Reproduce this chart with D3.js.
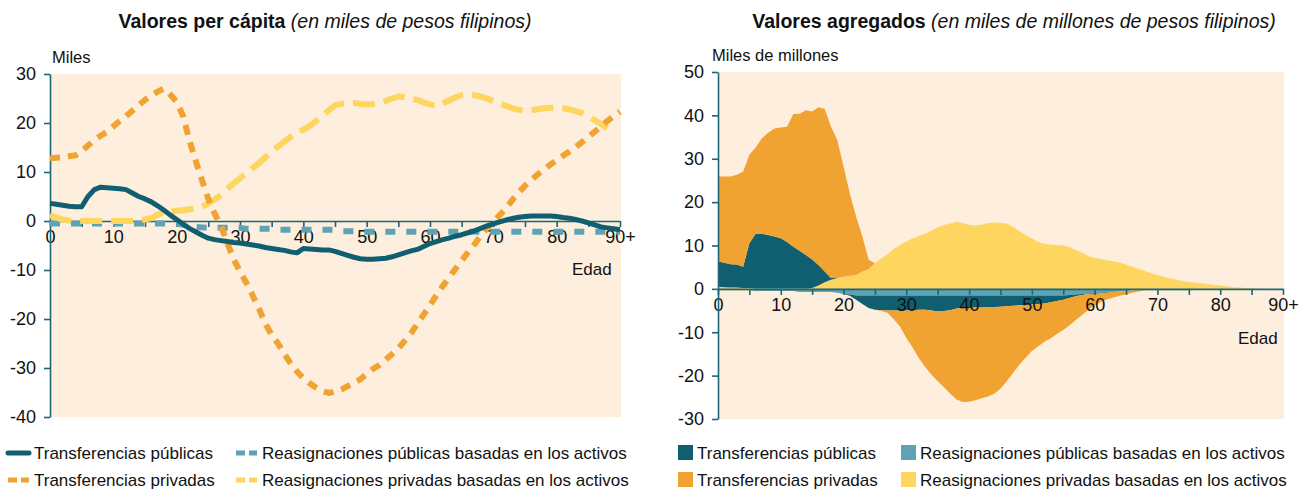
<!DOCTYPE html>
<html>
<head>
<meta charset="utf-8">
<title>Valores per cápita y agregados</title>
<script src="https://d3js.org/d3.v7.min.js"></script>
<style>
  body { margin: 0; background: #fff; }
  text { font-family: "Liberation Sans", Arial, sans-serif; fill: #111; }
</style>
</head>
<body>
<div id="chart"></div>
<script>
// edades 0..90+
const ages = d3.range(0, 91);

// --- per cápita (miles de pesos) ---
const pcTransfPublicas = [3.6,3.4,3.2,3.0,2.9,2.9,5.0,6.4,6.9,6.8,6.7,6.6,6.4,5.7,5.0,4.5,3.9,3.1,2.2,1.2,
  0.3,-0.6,-1.5,-2.2,-2.9,-3.5,-3.8,-4.0,-4.2,-4.4,-4.5,-4.7,-4.9,-5.1,-5.4,-5.6,-5.8,-6.0,-6.3,-6.5,
  -5.6,-5.7,-5.8,-5.9,-5.9,-6.2,-6.6,-7.0,-7.4,-7.7,-7.8,-7.8,-7.7,-7.6,-7.3,-6.9,-6.5,-6.1,-5.8,-5.2,
  -4.6,-4.2,-3.8,-3.5,-3.1,-2.8,-2.4,-2.0,-1.5,-1.0,-0.6,-0.2,0.2,0.5,0.75,0.9,1.0,1.0,1.0,1.0,
  0.9,0.7,0.55,0.3,0.0,-0.4,-0.8,-1.2,-1.4,-1.6,-1.8];
const pcTransfPrivadas = [12.8,12.9,13.0,13.2,13.4,14.2,15.4,16.5,17.4,18.2,19.3,20.4,21.4,22.5,23.6,24.7,25.6,26.4,27.0,25.8,
  24.3,21.5,16.5,12.3,8.3,4.5,1.5,-1.0,-4.5,-7.8,-10.3,-12.6,-15.2,-17.9,-21.0,-23.2,-25.0,-27.1,-29.1,-30.7,
  -32.1,-33.1,-34.0,-34.7,-35.1,-34.8,-34.4,-33.7,-33.0,-32.3,-31.2,-30.2,-29.4,-28.3,-27.2,-26.0,-24.5,-22.9,-21.0,-19.1,
  -17.2,-15.2,-13.3,-11.6,-9.8,-8.1,-6.4,-4.8,-3.0,-1.5,-0.1,1.2,2.5,4.3,5.8,7.2,8.4,9.5,10.5,11.5,
  12.4,13.3,14.2,15.1,16.1,17.2,18.2,19.3,20.4,21.4,22.3];
const pcReasigPublicas = [-0.5,-0.5,-0.5,-0.5,-0.5,-0.5,-0.5,-0.5,-0.5,-0.5,-0.5,-0.5,-0.5,-0.5,-0.5,-0.5,-0.5,-0.5,-0.5,-0.5,
  -0.5,-0.8,-1.0,-1.2,-1.3,-1.4,-1.4,-1.4,-1.4,-1.4,-1.4,-1.6,-1.6,-1.6,-1.6,-1.6,-1.8,-1.8,-1.8,-1.8,
  -1.8,-1.8,-1.8,-1.8,-1.8,-1.8,-2.1,-2.1,-2.1,-2.2,-2.2,-2.2,-2.2,-2.2,-2.2,-2.2,-2.2,-2.2,-2.2,-2.2,
  -2.2,-2.2,-2.2,-2.2,-2.2,-2.2,-2.2,-2.2,-2.2,-2.2,-2.2,-2.2,-2.2,-2.2,-2.2,-2.2,-2.2,-2.2,-2.2,-2.2,
  -2.2,-2.2,-2.2,-2.2,-2.2,-2.2,-2.2,-2.2,-2.2,-2.2,-2.2];
const pcReasigPrivadas = [1.2,0.7,0.3,0.1,0.0,0.0,0.0,0.0,0.0,0.0,0.0,0.0,0.0,0.0,0.1,0.3,0.6,1.3,1.7,1.9,
  2.1,2.2,2.4,2.6,2.9,3.6,4.4,5.3,6.5,7.7,8.7,9.7,10.8,11.8,13.0,14.1,15.2,16.2,17.2,18.2,
  18.6,19.4,20.4,21.4,22.6,23.6,23.9,24.1,24.1,23.9,23.8,23.9,24.1,24.5,25.0,25.4,25.3,25.0,24.7,24.2,
  23.8,23.5,24.0,24.6,25.2,25.7,25.9,25.7,25.4,25.0,24.5,24.0,23.5,23.0,22.7,22.5,22.6,22.8,23.0,23.1,
  23.1,23.0,22.8,22.4,22.0,21.3,20.6,19.8,18.9,null,null];

// --- agregados (miles de millones de pesos) ---
const agTransfPublicas = [5.8,5.6,5.4,5.3,4.9,10.3,12.6,12.6,12.3,12.0,11.6,10.7,9.6,8.7,7.7,6.6,4.7,2.5,0.4,0,
  -0.1,-0.3,-1.0,-2.0,-2.9,-3.3,-3.4,-3.5,-3.5,-3.5,-3.5,-3.4,-3.3,-3.3,-3.5,-3.7,-3.6,-3.4,-3.0,-2.9,
  -2.9,-2.8,-2.8,-2.7,-2.7,-2.6,-2.5,-2.4,-2.3,-2.2,-2.1,-2.0,-1.9,-1.6,-1.3,-1.0,-0.7,-0.4,-0.2,-0.1,
  -0.2,-0.1,-0.1,0,0,0,0,0,0,0,0,0,0,0,0,0,0,0,0,0,
  0,0,0,0,0,0,0,0,0,0,0];
const agReasigPublicas = [-0.3,-0.3,-0.3,-0.3,-0.3,-0.3,-0.5,-0.5,-0.5,-0.5,-0.5,-0.5,-0.5,-0.7,-0.7,-0.7,-0.7,-0.7,-0.7,-0.9,
  -1.1,-1.3,-1.5,-1.5,-1.5,-1.5,-1.5,-1.5,-1.5,-1.5,-1.5,-1.5,-1.5,-1.5,-1.5,-1.5,-1.5,-1.5,-1.5,-1.5,
  -1.5,-1.5,-1.5,-1.5,-1.5,-1.5,-1.5,-1.5,-1.5,-1.5,-1.5,-1.5,-1.5,-1.5,-1.5,-1.5,-1.4,-1.3,-1.2,-1.1,
  -1.0,-0.9,-0.8,-0.7,-0.6,-0.5,-0.4,-0.4,-0.3,-0.3,-0.3,-0.3,-0.3,-0.3,-0.3,-0.3,-0.2,-0.2,-0.2,-0.2,
  -0.2,-0.1,-0.1,-0.1,-0.1,-0.1,0,0,0,0,0];
const agTransfPrivadas = [19.6,19.9,20.2,20.7,21.9,20.4,19.9,22.0,23.6,24.9,25.5,26.6,30.6,31.6,33.4,34.1,36.4,37.5,34.9,31.8,
  25.4,19.0,13.5,8.1,2.2,0,-0.2,-0.5,-2.0,-3.7,-6.3,-8.6,-11.2,-13.2,-14.8,-16.1,-17.6,-19.3,-21.0,-21.7,
  -21.6,-21.4,-20.9,-20.6,-20.0,-18.9,-17.3,-15.5,-13.7,-12.2,-10.7,-9.7,-8.8,-8.3,-7.6,-7.0,-6.3,-5.5,-4.6,-3.6,
  -2.6,-2.0,-1.5,-1.3,-1.0,-0.8,-0.5,-0.2,0,0,0,0,0,0,0,0,0,0,0,0,
  0,0,0,0,0,0,0,0,0,0,0];
const agReasigPrivadas = [0.5,0.4,0.3,0.3,0.2,0.2,0.1,0.1,0.1,0.1,0.1,0.1,0.1,0.1,0.1,0.2,0.8,1.5,2.1,2.5,
  2.8,3.0,3.2,4.0,4.5,5.9,7.0,8.0,9.2,10.1,10.9,11.6,12.2,12.7,13.4,14.2,14.7,15.1,15.5,15.2,
  14.7,14.6,14.8,15.2,15.3,15.2,15.1,14.3,13.3,12.4,11.6,10.8,10.4,10.2,10.1,10.0,9.6,8.9,8.3,7.6,
  7.1,6.9,6.6,6.3,6.1,5.6,5.1,4.6,4.1,3.6,3.2,2.8,2.4,2.1,1.8,1.6,1.4,1.3,1.1,0.9,
  0.8,0.6,0.4,0.3,0.2,0.1,0,0,0,0,0];

const xTicks = d3.range(0, 91, 5);
const yTicksPc = d3.range(-40, 31, 10);
const yTicksAg = d3.range(-30, 51, 10);

const seriesNames = ["Transferencias públicas", "Reasignaciones públicas basadas en los activos",
                     "Transferencias privadas", "Reasignaciones privadas basadas en los activos"];

const C = { dark: "#0f5f70", light: "#5ea2b5", orange: "#f0a331", yellow: "#fdd55f",
            bg: "#fdeedd", axis: "#1b6679" };

const svg = d3.select("#chart").append("svg")
    .attr("width", 1306).attr("height", 493);

function ageFmt(d) { return d % 10 === 0 ? (d === 90 ? "90+" : String(d)) : ""; }

function frame(x, y, labX, yUnit, edadPos) {
    svg.append("rect")
        .attr("x", x.range()[0]).attr("y", y.range()[1])
        .attr("width", x.range()[1] - x.range()[0] + 1)
        .attr("height", y.range()[0] - y.range()[1])
        .attr("fill", C.bg);
    svg.append("text").attr("x", labX).attr("y", y.range()[1] - 11)
        .attr("font-size", 16.5).text(yUnit);
    svg.append("text").attr("x", edadPos[0]).attr("y", edadPos[1])
        .attr("font-size", 17).text("Edad");
}

function axes(x, y, yTicks) {
    let gx = svg.append("g")
        .attr("transform", "translate(0," + y(0) + ")")
        .call(d3.axisBottom(x).tickValues(xTicks).tickFormat(ageFmt)
              .tickSize(6).tickSizeOuter(0).tickPadding(3));
    let gy = svg.append("g")
        .attr("transform", "translate(" + x(0) + ",0)")
        .call(d3.axisLeft(y).tickValues(yTicks).tickFormat(d => String(d))
              .tickSize(6).tickSizeOuter(0).tickPadding(8));
    [gx, gy].forEach(g => {
        g.select(".domain").attr("stroke", C.axis).attr("stroke-width", 1.6);
        g.selectAll(".tick line").attr("stroke", C.axis).attr("stroke-width", 1.6);
        g.selectAll("text").attr("font-size", 18).attr("fill", "#111")
            .attr("font-family", "Liberation Sans, Arial, sans-serif");
    });
}

// ---------- panel izquierdo: per cápita ----------
let x1 = d3.scaleLinear().domain([0, 90]).range([50, 620]);
let y1 = d3.scaleLinear().domain([-40, 30]).range([417, 74]);
frame(x1, y1, 52, "Miles", [572, 275]);

let line1 = d3.line()
    .defined(d => d[1] != null)
    .x(d => x1(d[0])).y(d => y1(d[1]));

let pcSeries = [
    { v: pcReasigPublicas, color: C.light, dash: "10,11", w: 6 },
    { v: pcReasigPrivadas, color: C.yellow, dash: "22,9", w: 6 },
    { v: pcTransfPrivadas, color: C.orange, dash: "10,8", w: 6 },
    { v: pcTransfPublicas, color: C.dark, dash: null, w: 5 }
];
axes(x1, y1, yTicksPc);
pcSeries.forEach(s => {
    svg.append("path")
        .datum(ages.map((a, i) => [a, s.v[i]]))
        .attr("d", line1)
        .attr("fill", "none")
        .attr("stroke", s.color)
        .attr("stroke-width", s.w)
        .attr("stroke-dasharray", s.dash)
        .attr("stroke-linejoin", "round");
});

// ---------- panel derecho: agregados ----------
let x2 = d3.scaleLinear().domain([0, 90]).range([718, 1283]);
let y2 = d3.scaleLinear().domain([-30, 50]).range([419, 72]);
frame(x2, y2, 712, "Miles de millones", [1238, 344]);

let keys = ["rpub", "rpriv", "tpub", "tpriv"];
let fills = { rpub: C.light, rpriv: C.yellow, tpub: C.dark, tpriv: C.orange };
let rows = ages.map((a, i) => ({ age: a, rpub: agReasigPublicas[i], rpriv: agReasigPrivadas[i],
                                 tpub: agTransfPublicas[i], tpriv: agTransfPrivadas[i] }));
// positivos y negativos se apilan por separado desde el cero
let posRows = rows.map(r => { let o = { age: r.age }; keys.forEach(k => o[k] = Math.max(r[k], 0)); return o; });
let negRows = rows.map(r => { let o = { age: r.age }; keys.forEach(k => o[k] = Math.min(r[k], 0)); return o; });
let stack = d3.stack().keys(keys);
let area2 = d3.area()
    .x(d => x2(d.data.age)).y0(d => y2(d[0])).y1(d => y2(d[1]));

[stack(posRows), stack(negRows)].forEach(st => {
    st.forEach(layer => {
        svg.append("path").datum(layer)
            .attr("d", area2)
            .attr("fill", fills[layer.key]);
    });
});
axes(x2, y2, yTicksAg);

// ---------- títulos ----------
[[325, "Valores per cápita", "(en miles de pesos filipinos)"],
 [1014, "Valores agregados", "(en miles de millones de pesos filipinos)"]].forEach(t => {
    let tx = svg.append("text").attr("x", t[0]).attr("y", 28)
        .attr("text-anchor", "middle").attr("font-size", 19.5);
    tx.append("tspan").attr("font-weight", "bold").text(t[1] + " ");
    tx.append("tspan").attr("font-style", "italic").text(t[2]);
});

// ---------- leyendas ----------
let legL = [
    { name: seriesNames[0], color: C.dark, dash: null, x: 8, y: 453 },
    { name: seriesNames[1], color: C.light, dash: "9,4", x: 236, y: 453 },
    { name: seriesNames[2], color: C.orange, dash: "9,4", x: 8, y: 480 },
    { name: seriesNames[3], color: C.yellow, dash: "9,4", x: 236, y: 480 }
];
legL.forEach(l => {
    svg.append("line")
        .attr("x1", l.x).attr("x2", l.x + 21).attr("y1", l.y).attr("y2", l.y)
        .attr("stroke", l.color).attr("stroke-width", 5)
        .attr("stroke-dasharray", l.dash)
        .attr("stroke-linecap", l.dash ? "butt" : "round");
    svg.append("text").attr("x", l.x + 26).attr("y", l.y + 6)
        .attr("font-size", 17).text(l.name);
});

let legR = [
    { name: seriesNames[0], color: C.dark, x: 678, y: 453 },
    { name: seriesNames[1], color: C.light, x: 901, y: 453 },
    { name: seriesNames[2], color: C.orange, x: 678, y: 480 },
    { name: seriesNames[3], color: C.yellow, x: 901, y: 480 }
];
legR.forEach(l => {
    svg.append("rect").attr("x", l.x).attr("y", l.y - 8).attr("width", 15).attr("height", 15)
        .attr("fill", l.color);
    svg.append("text").attr("x", l.x + 19).attr("y", l.y + 6)
        .attr("font-size", 17).text(l.name);
});
</script>
</body>
</html>
